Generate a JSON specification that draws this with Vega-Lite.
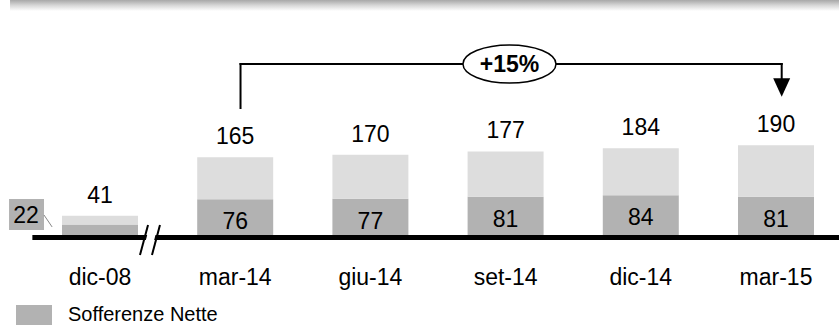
{
  "$schema": "https://vega.github.io/schema/vega-lite/v6.json",
  "width": 839,
  "height": 240,
  "autosize": {"type": "none"},
  "padding": {"left": 0, "top": 0, "right": 0, "bottom": 86},
  "background": "white",
  "config": {"view": {"stroke": null}, "font": "Liberation Sans",
    "axisX": {"title": null, "domain": false, "ticks": false, "grid": false, "labelFontSize": 23, "labelPadding": 44, "labelBaseline": "alphabetic", "labelColor": "black", "labelFont": "Liberation Sans", "labelAngle": 0}},
  "resolve": {"axis": {"x": "independent", "y": "independent"}},
  "data": {"values": [
    {"periodo": "dic-08", "tipo": "Sofferenze Nette", "valore": 22},
    {"periodo": "dic-08", "tipo": "Altre", "valore": 19},
    {"periodo": "mar-14", "tipo": "Sofferenze Nette", "valore": 76},
    {"periodo": "mar-14", "tipo": "Altre", "valore": 89},
    {"periodo": "giu-14", "tipo": "Sofferenze Nette", "valore": 77},
    {"periodo": "giu-14", "tipo": "Altre", "valore": 93},
    {"periodo": "set-14", "tipo": "Sofferenze Nette", "valore": 81},
    {"periodo": "set-14", "tipo": "Altre", "valore": 96},
    {"periodo": "dic-14", "tipo": "Sofferenze Nette", "valore": 84},
    {"periodo": "dic-14", "tipo": "Altre", "valore": 100},
    {"periodo": "mar-15", "tipo": "Sofferenze Nette", "valore": 81},
    {"periodo": "mar-15", "tipo": "Altre", "valore": 109}
  ]},
  "layer": [
    {
      "mark": {"type": "bar"},
      "encoding": {
        "x": {"field": "periodo", "type": "nominal", "title": null,
          "scale": {"domain": ["dic-08","mar-14","giu-14","set-14","dic-14","mar-15"], "paddingInner": 0.4379, "paddingOuter": 0.3218, "align": 0.7126}},
        "y": {"field": "valore", "type": "quantitative", "stack": "zero",
          "scale": {"domain": [-10.6, 498], "nice": false, "zero": false}, "axis": null},
        "color": {"field": "tipo", "type": "nominal",
          "scale": {"domain": ["Sofferenze Nette", "Altre"], "range": ["#b2b2b2", "#dddddd"]},
          "legend": {"values": ["Sofferenze Nette"], "title": null, "orient": "none", "legendX": 16, "legendY": 297,
            "symbolType": "M-1,-0.556H1V0.556H-1Z", "symbolSize": 1296, "symbolStrokeWidth": 0, "symbolOpacity": 1,
            "labelFontSize": 20, "labelOffset": 16, "labelFont": "Liberation Sans", "labelColor": "black", "padding": 0, "labelLimit": 400}},
        "order": {"field": "tipo", "sort": "descending"}
      }
    },
    {
      "data": {"values": [{}]},
      "mark": {"type": "rule", "color": "black", "strokeWidth": 5},
      "encoding": {
        "x": {"datum": "dic-08", "type": "nominal", "bandPosition": -0.39, "axis": null,
          "scale": {"domain": ["dic-08","mar-14","giu-14","set-14","dic-14","mar-15"], "paddingInner": 0.4379, "paddingOuter": 0.3218, "align": 0.7126}},
        "x2": {"datum": "mar-15", "bandPosition": 1.6},
        "y": {"datum": -5.3, "type": "quantitative", "scale": {"domain": [-10.6, 498], "nice": false, "zero": false}, "axis": null}
      }
    },
    {
      "data": {"values": [{}]},
      "mark": {"type": "rule", "color": "white", "strokeWidth": 8},
      "encoding": {
        "x": {"datum": "dic-08", "type": "nominal", "bandPosition": 1.105, "axis": null,
          "scale": {"domain": ["dic-08","mar-14","giu-14","set-14","dic-14","mar-15"], "paddingInner": 0.4379, "paddingOuter": 0.3218, "align": 0.7126}},
        "x2": {"datum": "dic-08", "bandPosition": 1.211},
        "y": {"datum": -42.4, "type": "quantitative", "scale": {"domain": [-10.6, 498], "nice": false, "zero": false}, "axis": null},
        "y2": {"datum": 21.2}
      }
    },
    {
      "data": {"values": [{}]},
      "mark": {"type": "rule", "color": "black", "strokeWidth": 2},
      "encoding": {
        "x": {"datum": "dic-08", "type": "nominal", "bandPosition": 1.026, "axis": null,
          "scale": {"domain": ["dic-08","mar-14","giu-14","set-14","dic-14","mar-15"], "paddingInner": 0.4379, "paddingOuter": 0.3218, "align": 0.7126}},
        "x2": {"datum": "dic-08", "bandPosition": 1.132},
        "y": {"datum": -42.4, "type": "quantitative", "scale": {"domain": [-10.6, 498], "nice": false, "zero": false}, "axis": null},
        "y2": {"datum": 21.2}
      }
    },
    {
      "data": {"values": [{}]},
      "mark": {"type": "rule", "color": "black", "strokeWidth": 2},
      "encoding": {
        "x": {"datum": "dic-08", "type": "nominal", "bandPosition": 1.184, "axis": null,
          "scale": {"domain": ["dic-08","mar-14","giu-14","set-14","dic-14","mar-15"], "paddingInner": 0.4379, "paddingOuter": 0.3218, "align": 0.7126}},
        "x2": {"datum": "dic-08", "bandPosition": 1.289},
        "y": {"datum": -42.4, "type": "quantitative", "scale": {"domain": [-10.6, 498], "nice": false, "zero": false}, "axis": null},
        "y2": {"datum": 21.2}
      }
    },
    {
      "mark": {"type": "text", "fontSize": 23, "font": "Liberation Sans", "baseline": "alphabetic", "dy": -13, "color": "black"},
      "encoding": {
        "x": {"field": "periodo", "type": "nominal", "axis": null,
          "scale": {"domain": ["dic-08","mar-14","giu-14","set-14","dic-14","mar-15"], "paddingInner": 0.4379, "paddingOuter": 0.3218, "align": 0.7126}},
        "y": {"aggregate": "sum", "field": "valore", "type": "quantitative", "scale": {"domain": [-10.6, 498], "nice": false, "zero": false}, "axis": null},
        "text": {"aggregate": "sum", "field": "valore", "type": "quantitative"}
      }
    },
    {
      "transform": [{"filter": "datum.tipo === 'Sofferenze Nette' && datum.periodo !== 'dic-08'"}],
      "mark": {"type": "text", "fontSize": 23, "font": "Liberation Sans", "baseline": "alphabetic", "dy": 30, "color": "black"},
      "encoding": {
        "x": {"field": "periodo", "type": "nominal", "axis": null,
          "scale": {"domain": ["dic-08","mar-14","giu-14","set-14","dic-14","mar-15"], "paddingInner": 0.4379, "paddingOuter": 0.3218, "align": 0.7126}},
        "y": {"field": "valore", "type": "quantitative", "scale": {"domain": [-10.6, 498], "nice": false, "zero": false}, "axis": null},
        "text": {"field": "valore", "type": "quantitative"}
      }
    },
    {
      "data": {"values": [{}]},
      "mark": {"type": "rect", "color": "#b2b2b2"},
      "encoding": {
        "x": {"datum": "dic-08", "type": "nominal", "bandPosition": -0.697, "axis": null,
          "scale": {"domain": ["dic-08","mar-14","giu-14","set-14","dic-14","mar-15"], "paddingInner": 0.4379, "paddingOuter": 0.3218, "align": 0.7126}},
        "x2": {"datum": "dic-08", "bandPosition": -0.237},
        "y": {"datum": 76.3, "type": "quantitative", "scale": {"domain": [-10.6, 498], "nice": false, "zero": false}, "axis": null},
        "y2": {"datum": 10.6}
      }
    },
    {
      "data": {"values": [{}]},
      "mark": {"type": "rule", "color": "#888888", "strokeWidth": 1},
      "encoding": {
        "x": {"datum": "dic-08", "type": "nominal", "bandPosition": -0.237, "axis": null,
          "scale": {"domain": ["dic-08","mar-14","giu-14","set-14","dic-14","mar-15"], "paddingInner": 0.4379, "paddingOuter": 0.3218, "align": 0.7126}},
        "x2": {"datum": "dic-08", "bandPosition": -0.13},
        "y": {"datum": 42.4, "type": "quantitative", "scale": {"domain": [-10.6, 498], "nice": false, "zero": false}, "axis": null},
        "y2": {"datum": 17}
      }
    },
    {
      "transform": [{"filter": "datum.tipo === 'Sofferenze Nette' && datum.periodo === 'dic-08'"}],
      "mark": {"type": "text", "fontSize": 23, "font": "Liberation Sans", "baseline": "alphabetic", "color": "black"},
      "encoding": {
        "x": {"field": "periodo", "type": "nominal", "bandPosition": -0.474, "axis": null,
          "scale": {"domain": ["dic-08","mar-14","giu-14","set-14","dic-14","mar-15"], "paddingInner": 0.4379, "paddingOuter": 0.3218, "align": 0.7126}},
        "y": {"datum": 25.4, "type": "quantitative", "scale": {"domain": [-10.6, 498], "nice": false, "zero": false}, "axis": null},
        "text": {"field": "valore", "type": "quantitative"}
      }
    },
    {
      "data": {"values": [{}]},
      "mark": {"type": "rule", "color": "black", "strokeWidth": 2, "strokeCap": "square"},
      "encoding": {
        "x": {"datum": "mar-14", "type": "nominal", "bandPosition": 0.57, "axis": null,
          "scale": {"domain": ["dic-08","mar-14","giu-14","set-14","dic-14","mar-15"], "paddingInner": 0.4379, "paddingOuter": 0.3218, "align": 0.7126}},
        "y": {"datum": 269.1, "type": "quantitative", "scale": {"domain": [-10.6, 498], "nice": false, "zero": false}, "axis": null},
        "y2": {"datum": 362.4}
      }
    },
    {
      "data": {"values": [{}]},
      "mark": {"type": "rule", "color": "black", "strokeWidth": 2, "strokeCap": "square"},
      "encoding": {
        "x": {"datum": "mar-14", "type": "nominal", "bandPosition": 0.57, "axis": null,
          "scale": {"domain": ["dic-08","mar-14","giu-14","set-14","dic-14","mar-15"], "paddingInner": 0.4379, "paddingOuter": 0.3218, "align": 0.7126}},
        "x2": {"datum": "mar-15", "bandPosition": 0.575},
        "y": {"datum": 362.4, "type": "quantitative", "scale": {"domain": [-10.6, 498], "nice": false, "zero": false}, "axis": null}
      }
    },
    {
      "data": {"values": [{}]},
      "mark": {"type": "rule", "color": "black", "strokeWidth": 2, "strokeCap": "square"},
      "encoding": {
        "x": {"datum": "mar-15", "type": "nominal", "bandPosition": 0.575, "axis": null,
          "scale": {"domain": ["dic-08","mar-14","giu-14","set-14","dic-14","mar-15"], "paddingInner": 0.4379, "paddingOuter": 0.3218, "align": 0.7126}},
        "y": {"datum": 362.4, "type": "quantitative", "scale": {"domain": [-10.6, 498], "nice": false, "zero": false}, "axis": null},
        "y2": {"datum": 328.5}
      }
    },
    {
      "data": {"values": [{}]},
      "mark": {"type": "point", "shape": "M-1,-1.1L1,-1.1L0,1.1Z", "size": 289, "filled": true, "color": "black", "opacity": 1},
      "encoding": {
        "x": {"datum": "mar-15", "type": "nominal", "bandPosition": 0.575, "axis": null,
          "scale": {"domain": ["dic-08","mar-14","giu-14","set-14","dic-14","mar-15"], "paddingInner": 0.4379, "paddingOuter": 0.3218, "align": 0.7126}},
        "y": {"datum": 312.6, "type": "quantitative", "scale": {"domain": [-10.6, 498], "nice": false, "zero": false}, "axis": null}
      }
    },
    {
      "data": {"values": [{}]},
      "mark": {"type": "point", "shape": "M-1,0A1,0.409,0,1,1,1,0A1,0.409,0,1,1,-1,0Z", "size": 8649, "filled": false, "fill": "white", "fillOpacity": 1, "stroke": "black", "strokeWidth": 1.5, "opacity": 1},
      "encoding": {
        "x": {"datum": "set-14", "type": "nominal", "bandPosition": 0.551, "axis": null,
          "scale": {"domain": ["dic-08","mar-14","giu-14","set-14","dic-14","mar-15"], "paddingInner": 0.4379, "paddingOuter": 0.3218, "align": 0.7126}},
        "y": {"datum": 362.4, "type": "quantitative", "scale": {"domain": [-10.6, 498], "nice": false, "zero": false}, "axis": null}
      }
    },
    {
      "data": {"values": [{}]},
      "mark": {"type": "text", "text": "+15%", "fontSize": 23, "fontWeight": "bold", "font": "Liberation Sans", "baseline": "alphabetic", "dy": 8.5, "color": "black"},
      "encoding": {
        "x": {"datum": "set-14", "type": "nominal", "bandPosition": 0.551, "axis": null,
          "scale": {"domain": ["dic-08","mar-14","giu-14","set-14","dic-14","mar-15"], "paddingInner": 0.4379, "paddingOuter": 0.3218, "align": 0.7126}},
        "y": {"datum": 362.4, "type": "quantitative", "scale": {"domain": [-10.6, 498], "nice": false, "zero": false}, "axis": null}
      }
    },
    {
      "data": {"values": [{}]},
      "mark": {"type": "rect", "color": {"gradient": "linear", "x1": 0, "y1": 0, "x2": 0, "y2": 1, "stops": [{"offset": 0, "color": "#a8a8a8"}, {"offset": 0.5, "color": "#d8d8d8"}, {"offset": 1, "color": "#ffffff"}]}},
      "encoding": {
        "x": {"datum": "dic-08", "type": "nominal", "bandPosition": -0.684, "axis": null,
          "scale": {"domain": ["dic-08","mar-14","giu-14","set-14","dic-14","mar-15"], "paddingInner": 0.4379, "paddingOuter": 0.3218, "align": 0.7126}},
        "x2": {"datum": "mar-15", "bandPosition": 1.6},
        "y": {"datum": 498, "type": "quantitative", "scale": {"domain": [-10.6, 498], "nice": false, "zero": false}, "axis": null},
        "y2": {"datum": 474.7}
      }
    }
  ]
}
